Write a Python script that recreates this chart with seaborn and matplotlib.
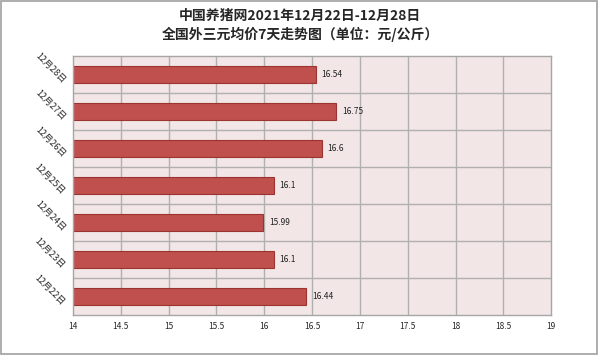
import pandas as pd
import matplotlib
matplotlib.use("Agg")
import matplotlib.pyplot as plt
import matplotlib.transforms as mtransforms
import seaborn as sns

dates = ["12月28日", "12月27日", "12月26日", "12月25日", "12月24日", "12月23日", "12月22日"]
prices = [16.54, 16.75, 16.6, 16.1, 15.99, 16.1, 16.44]
x_ticks = [14, 14.5, 15, 15.5, 16, 16.5, 17, 17.5, 18, 18.5, 19]
x_labels = ["14", "14.5", "15", "15.5", "16", "16.5", "17", "17.5", "18", "18.5", "19"]

df = pd.DataFrame({"date": dates, "price": prices})

sns.set_style("white")
plt.rcParams['font.family'] = ['Noto Sans CJK SC', 'DejaVu Sans']

fig = plt.figure(figsize=(6, 3.55), dpi=100)
ax = fig.add_axes([0.1217, 0.113, 0.797, 0.729])
ax.set_facecolor("#F2E6E6")

sns.barplot(data=df, y="date", x="price", order=dates, orient="h",
            color="#C0504D", edgecolor="#9B3431", linewidth=0.8,
            width=0.44, saturation=1, ax=ax)

ax.set_xlim(14, 19)
ax.set_ylim(len(dates) - 0.5, -0.5)
ax.set_xticks(x_ticks)
ax.set_xticklabels(x_labels, fontsize=6)
ax.tick_params(axis="x", length=0, pad=5)

# grid: vertical at x ticks, horizontal at category boundaries
for xv in x_ticks[1:-1]:
    ax.axvline(xv, color="#B0B0B0", lw=1, zorder=0)
for i in range(len(dates) - 1):
    ax.axhline(i + 0.5, color="#B0B0B0", lw=1, zorder=0)
ax.set_axisbelow(True)

ax.set_yticks(range(len(dates)))
ax.set_yticklabels(dates, fontsize=6.5)
ax.tick_params(axis="y", length=0, pad=6)
shift = mtransforms.ScaledTranslation(-1 / 72, -5 / 72, fig.dpi_scale_trans)
for lbl in ax.get_yticklabels():
    lbl.set_rotation_mode("anchor")
    lbl.set_rotation(-45)
    lbl.set_ha("right")
    lbl.set_va("center")
    lbl.set_transform(lbl.get_transform() + shift)

for i, v in enumerate(prices):
    ax.text(v + 0.06, i, f"{v:g}", fontsize=6, va="center", ha="left", color="#222222")

for s in ax.spines.values():
    s.set_color("#A6A6A6")
    s.set_linewidth(1)

ax.set_xlabel("")
ax.set_ylabel("")

fig.text(0.5, 0.955, "中国养猪网2021年12月22日-12月28日", ha="center", va="center",
         fontsize=10, fontweight="bold")
fig.text(0.5, 0.903, "全国外三元均价7天走势图（单位：元/公斤）", ha="center", va="center",
         fontsize=10, fontweight="bold")

fig.patches.append(plt.Rectangle((0.002, 0.003), 0.993, 0.994, transform=fig.transFigure,
                                 fill=False, edgecolor="#A0A0A0", lw=1.2))

fig.savefig("out.png", dpi=100)
